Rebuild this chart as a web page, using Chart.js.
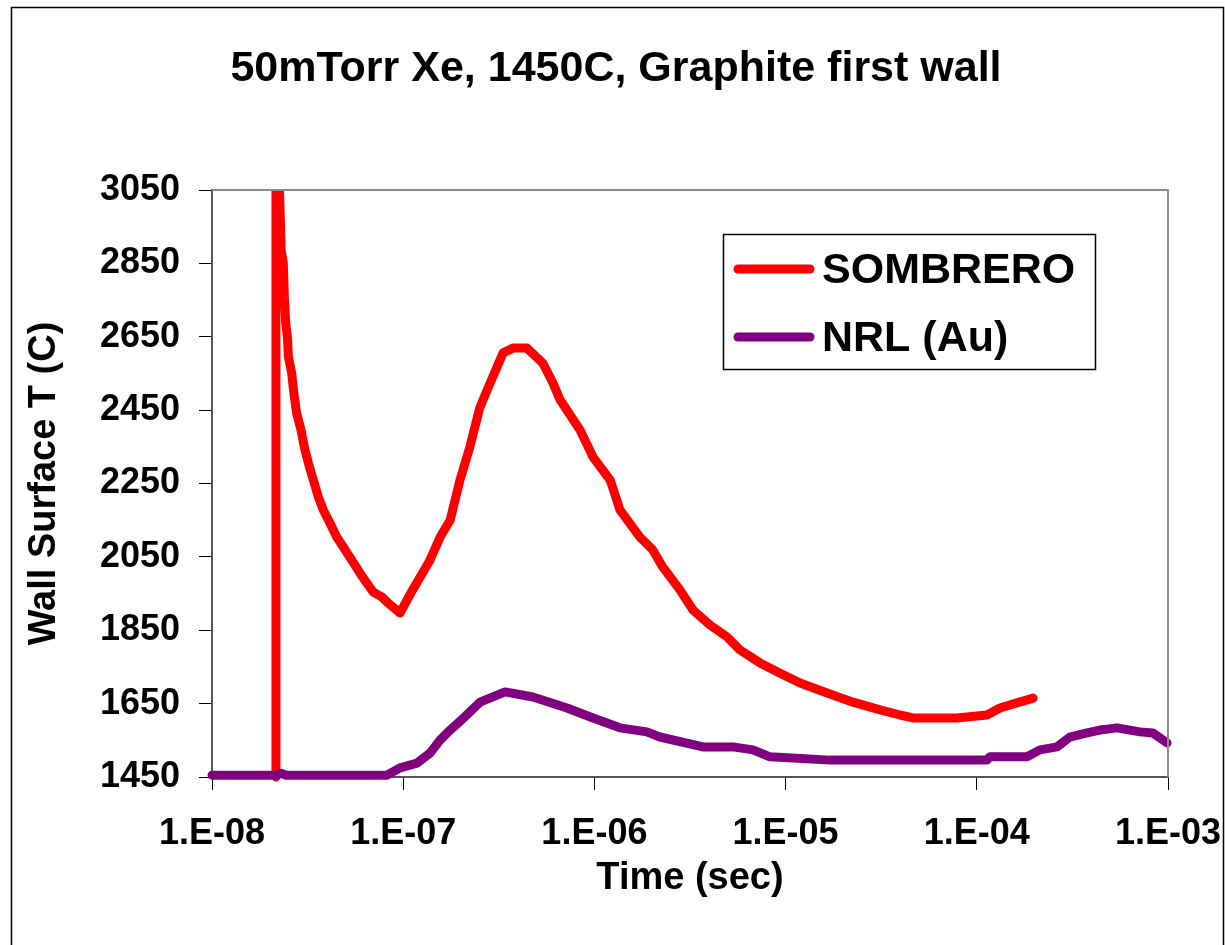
<!DOCTYPE html>
<html>
<head>
<meta charset="utf-8">
<script src="https://cdn.jsdelivr.net/npm/chart.js@4/dist/chart.umd.min.js"></script>
<style>
  body { margin: 0; background: #fff; }
  canvas { display: block; }
</style>
</head>
<body>
<canvas id="wallChart" width="1225" height="945"></canvas>
<script>
// DATA

var chartTitle = '50mTorr Xe, 1450C, Graphite first wall';

var sombreroTime = [2.16e-8, 2.16e-8, 2.24e-8, 2.30e-8, 2.36e-8, 2.39e-8, 2.43e-8, 2.48e-8, 2.51e-8, 2.61e-8,
    2.68e-8, 2.77e-8, 2.92e-8, 3.04e-8, 3.19e-8, 3.39e-8, 3.60e-8, 3.82e-8, 4.14e-8, 4.49e-8,
    4.86e-8, 5.38e-8, 5.94e-8, 6.44e-8, 6.98e-8, 7.72e-8, 8.36e-8, 9.62e-8,
    1.12e-7, 1.38e-7, 1.56e-7, 1.76e-7, 1.98e-7, 2.23e-7, 2.52e-7, 2.85e-7, 3.33e-7, 3.75e-7,
    4.44e-7, 5.38e-7, 6.07e-7, 6.61e-7, 8.41e-7, 9.84e-7, 1.21e-6, 1.36e-6, 1.73e-6, 2.02e-6,
    2.28e-6, 2.80e-6, 3.28e-6, 4.03e-6, 4.94e-6, 5.78e-6, 7.35e-6, 9.36e-6, 1.19e-5, 1.65e-5,
    2.25e-5, 3.12e-5, 3.97e-5, 4.64e-5, 7.87e-5, 1.13e-4, 1.32e-4, 1.62e-4, 1.97e-4];
var sombreroTemp = [1450, 3100, 3100, 2886, 2851, 2758, 2687, 2649, 2595, 2551,
    2497, 2442, 2396, 2349, 2306, 2259, 2213, 2178, 2142, 2104,
    2077, 2041, 2006, 1979, 1954, 1941, 1924, 1897,
    1960, 2041, 2104, 2150, 2259, 2349, 2458, 2524, 2606, 2619,
    2619, 2578, 2524, 2478, 2396, 2322, 2259, 2178, 2104, 2069,
    2022, 1960, 1905, 1864, 1832, 1796, 1761, 1733, 1706, 1679,
    1654, 1633, 1619, 1611, 1611, 1619, 1638, 1652, 1665];

var nrlTime = [1e-8, 2.16e-8, 2.30e-8, 2.44e-8, 8.23e-8, 9.62e-8, 1.18e-7, 1.38e-7, 1.56e-7, 1.76e-7,
    2.10e-7, 2.52e-7, 3.41e-7, 4.77e-7, 7.19e-7, 9.84e-7, 1.36e-6, 1.88e-6, 2.20e-6, 3.70e-6,
    5.31e-6, 6.75e-6, 8.28e-6, 1.71e-5, 1.13e-4, 1.17e-4, 1.83e-4, 2.14e-4, 2.63e-4, 3.07e-4,
    3.77e-4, 4.41e-4, 5.41e-4, 7.14e-4, 8.34e-4, 9.89e-4];
var nrlTemp = [1455, 1455, 1460, 1455, 1455, 1475, 1488, 1515, 1551, 1578,
    1614, 1654, 1682, 1668, 1638, 1611, 1584, 1573, 1559, 1532,
    1532, 1524, 1505, 1496, 1496, 1505, 1505, 1524, 1532, 1559,
    1570, 1578, 1584, 1573, 1570, 1543];

var xTicks = [1e-8, 1e-7, 1e-6, 1e-5, 1e-4, 1e-3];
var xTickLabels = ['1.E-08', '1.E-07', '1.E-06', '1.E-05', '1.E-04', '1.E-03'];
var yTicks = [1450, 1650, 1850, 2050, 2250, 2450, 2650, 2850, 3050];

var seriesNames = ['SOMBRERO', 'NRL (Au)'];
var seriesColors = ['#ff0000', '#800080'];

function toPoints(xs, ys) {
    return xs.map(function (x, i) { return { x: x, y: ys[i] }; });
}

var FONT = '"Liberation Sans", Arial, sans-serif';

// frame, title, plot border and legend
var decorations = {
    id: 'decorations',
    beforeDraw: function (chart) {
        var c = chart.ctx;
        c.save();
        c.fillStyle = '#fff';
        c.fillRect(0, 0, chart.width, chart.height);
        c.strokeStyle = '#000';
        c.lineWidth = 1.5;
        c.strokeRect(11.5, 7.5, 1212, 950);
        c.fillStyle = '#000';
        c.font = 'bold 43px ' + FONT;
        c.textAlign = 'center';
        c.textBaseline = 'middle';
        c.fillText(chartTitle, 616, 69);
        c.restore();
    },
    afterDatasetsDraw: function (chart) {
        var c = chart.ctx;
        var a = chart.chartArea;
        c.save();
        c.strokeStyle = '#8c8c8c';
        c.lineWidth = 2;
        c.beginPath();
        c.moveTo(a.left, a.top);
        c.lineTo(a.right, a.top);
        c.lineTo(a.right, a.bottom);
        c.stroke();

        // legend box
        c.fillStyle = '#fff';
        c.fillRect(723, 234, 372, 135);
        c.strokeStyle = '#000';
        c.lineWidth = 1.5;
        c.strokeRect(723.5, 234.5, 372, 135);
        var rows = [269, 337];
        c.font = 'bold 43px ' + FONT;
        c.textBaseline = 'middle';
        c.textAlign = 'left';
        chart.data.datasets.forEach(function (ds, i) {
            c.strokeStyle = ds.borderColor;
            c.lineWidth = 9;
            c.lineCap = 'round';
            c.beginPath();
            c.moveTo(738, rows[i]);
            c.lineTo(810, rows[i]);
            c.stroke();
            c.fillStyle = '#000';
            c.fillText(ds.label, 822, rows[i] + 2);
        });
        c.restore();
    }
};

var ctx = document.getElementById('wallChart');

var wallChart = new Chart(ctx, {
    type: 'line',
    data: {
        datasets: [{
            label: seriesNames[0],
            data: toPoints(sombreroTime, sombreroTemp),
            borderColor: seriesColors[0],
            backgroundColor: seriesColors[0],
            borderWidth: 9,
            pointRadius: 0,
            tension: 0,
            borderJoinStyle: 'round',
            borderCapStyle: 'round',
            clip: { left: 6, top: 0, right: 6, bottom: 6 },
            order: 1
        }, {
            label: seriesNames[1],
            data: toPoints(nrlTime, nrlTemp),
            borderColor: seriesColors[1],
            backgroundColor: seriesColors[1],
            borderWidth: 9,
            pointRadius: 0,
            tension: 0,
            borderJoinStyle: 'round',
            borderCapStyle: 'round',
            clip: { left: 6, top: 0, right: 6, bottom: 6 },
            order: 0
        }]
    },
    options: {
        responsive: false,
        animation: false,
        layout: { padding: { left: 0, right: 57, top: 190, bottom: 0 } },
        plugins: {
            legend: { display: false },
            tooltip: { enabled: false },
            title: { display: false }
        },
        scales: {
            x: {
                type: 'logarithmic',
                min: 1e-8,
                max: 1e-3,
                afterFit: function (scale) {
                    scale.height = 168;
                    scale.paddingLeft = 0;
                    scale.paddingRight = 0;
                },
                afterBuildTicks: function (scale) {
                    scale.ticks = xTicks.map(function (v) { return { value: v, major: true }; });
                },
                grid: {
                    drawOnChartArea: false,
                    drawTicks: true,
                    tickLength: 13,
                    color: '#000',
                    tickColor: '#000'
                },
                border: { color: '#555', width: 2 },
                ticks: {
                    color: '#000',
                    padding: 22,
                    maxRotation: 0,
                    autoSkip: false,
                    font: { family: FONT, size: 36, weight: 'bold' },
                    callback: function (value, index) { return xTickLabels[index]; }
                },
                title: {
                    display: true,
                    text: 'Time (sec)',
                    color: '#000',
                    font: { family: FONT, size: 38, weight: 'bold' },
                    padding: { top: 0, bottom: 44 }
                }
            },
            y: {
                type: 'linear',
                min: 1450,
                max: 3050,
                afterFit: function (scale) {
                    scale.width = 212;
                    scale.paddingTop = 0;
                    scale.paddingBottom = 0;
                },
                afterBuildTicks: function (scale) {
                    scale.ticks = yTicks.map(function (v) { return { value: v }; });
                },
                grid: {
                    drawOnChartArea: false,
                    drawTicks: true,
                    tickLength: 13,
                    color: '#000',
                    tickColor: '#000'
                },
                border: { color: '#555', width: 2 },
                ticks: {
                    color: '#000',
                    padding: 19,
                    autoSkip: false,
                    font: { family: FONT, size: 36, weight: 'bold' },
                    callback: function (value) { return String(value); }
                },
                title: {
                    display: true,
                    text: 'Wall Surface T (C)',
                    color: '#000',
                    font: { family: FONT, size: 38, weight: 'bold' },
                    padding: { top: 22, bottom: 0 }
                }
            }
        }
    },
    plugins: [decorations]
});
</script>
</body>
</html>
